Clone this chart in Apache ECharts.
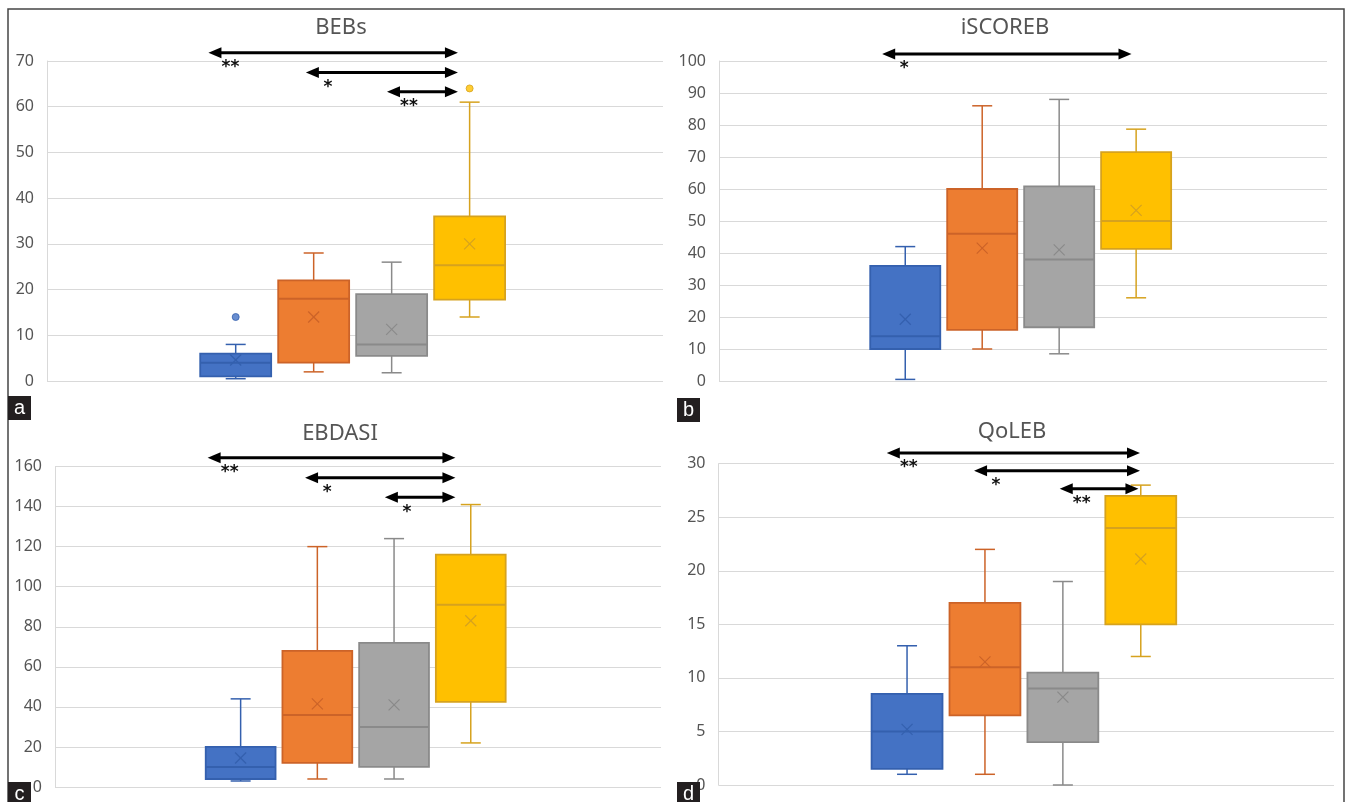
<!DOCTYPE html>
<html><head><meta charset="utf-8">
<script src="https://cdn.jsdelivr.net/npm/echarts@6/dist/echarts.min.js"></script>
<style>html,body{margin:0;padding:0;background:#fff}#c{width:1346px;height:802px}</style>
</head><body><div id="c"></div>
<script>
// ---------- data ----------
const groups = ['Group 1', 'Group 2', 'Group 3', 'Group 4'];
const panelTitles = ['BEBs', 'iSCOREB', 'EBDASI', 'QoLEB'];
const panelLetters = ['a', 'b', 'c', 'd'];
// each row: [min, q1, median, q3, max, mean]
const bebsStats = [[0.5, 1, 4, 6, 8, 4.6], [2, 4, 18, 22, 28, 14], [1.8, 5.5, 8, 19, 26, 11.3], [14, 17.8, 25.3, 36, 61, 30]];
const iscorebStats = [[0.5, 10, 14, 36, 42, 19.3], [10, 16, 46, 60, 86, 41.5], [8.5, 16.8, 38, 60.8, 88, 41], [26, 41.3, 50, 71.5, 78.7, 53.3]];
const ebdasiStats = [[3, 4, 10, 20, 44, 14.5], [4, 12, 36, 68, 120, 41.5], [4, 10, 30, 72, 124, 41], [22, 42.5, 91, 116, 141, 83]];
const qolebStats = [[1, 1.5, 5, 8.5, 13, 5.2], [1, 6.5, 11, 17, 22, 11.5], [0, 4, 9, 10.5, 19, 8.2], [12, 15, 24, 27, 28, 21.1]];
// outliers: [groupIndex, value]
const bebsOutliers = [[0, 14], [3, 64]];
const iscorebOutliers = [];
const ebdasiOutliers = [];
const qolebOutliers = [];
// y axis
const yMaxList = [70, 100, 160, 30];
const yIntervalList = [10, 10, 20, 5];
// significance arrows: [fromX, toX, yValue] (x in group units) and their labels
const bebsSig = [[-0.35, 2.85, 71.8], [0.9, 2.85, 67.5], [1.94, 2.85, 63.3]];
const bebsSigLabels = ['**', '*', '**'];
const iscorebSig = [[-0.3, 2.94, 102.2]];
const iscorebSigLabels = ['*'];
const ebdasiSig = [[-0.43, 2.8, 164.4], [0.84, 2.8, 154.4], [1.88, 2.8, 144.6]];
const ebdasiSigLabels = ['**', '*', '*'];
const qolebSig = [[-0.26, 2.99, 31], [0.86, 2.99, 29.35], [1.96, 2.97, 27.67]];
const qolebSigLabels = ['**', '*', '**'];

// ---------- style / layout ----------
const fills = ['#4472C4', '#ED7D31', '#A5A5A5', '#FFC000'];
const strokes = ['#3460AE', '#CC6328', '#8A8A8A', '#D6A21E'];
const FONT = '"Noto Sans", "Open Sans", sans-serif';
const gridsPx = [
  { left: 47, top: 61, width: 616, height: 320 },
  { left: 719, top: 61, width: 608, height: 320 },
  { left: 55, top: 466.5, width: 606, height: 320.5 },
  { left: 718.5, top: 463.7, width: 615.5, height: 321.3 }
];
const titlePos = [[341, 28], [1005, 28], [340, 434], [1012, 432]];
const letterPos = [[8, 396], [677, 398], [8, 782], [677, 782]];

const statsList = [bebsStats, iscorebStats, ebdasiStats, qolebStats];
const outlierList = [bebsOutliers, iscorebOutliers, ebdasiOutliers, qolebOutliers];
const sigList = [bebsSig, iscorebSig, ebdasiSig, qolebSig];
const sigLabelList = [bebsSigLabels, iscorebSigLabels, ebdasiSigLabels, qolebSigLabels];

function boxRender(params, api) {
  const i = api.value(0);
  const x = api.coord([i, 0])[0];
  const yMin = api.coord([i, api.value(1)])[1];
  const yQ1 = api.coord([i, api.value(2)])[1];
  const yMed = api.coord([i, api.value(3)])[1];
  const yQ3 = api.coord([i, api.value(4)])[1];
  const yMax = api.coord([i, api.value(5)])[1];
  const yMean = api.coord([i, api.value(6)])[1];
  const w = api.size([0.91, 0])[0];
  const cap = 20, m = 5.5;
  const st = strokes[i];
  const ln = (x1, y1, x2, y2, lw) => ({ type: 'line', shape: { x1, y1, x2, y2 }, style: { stroke: st, lineWidth: lw || 1.5 } });
  return {
    type: 'group', children: [
      ln(x, yMax, x, yQ3), ln(x, yQ1, x, yMin),
      ln(x - cap / 2, yMax, x + cap / 2, yMax), ln(x - cap / 2, yMin, x + cap / 2, yMin),
      { type: 'rect', shape: { x: x - w / 2, y: yQ3, width: w, height: yQ1 - yQ3 }, style: { fill: fills[i], stroke: st, lineWidth: 1.8 } },
      ln(x - w / 2, yMed, x + w / 2, yMed, 2),
      ln(x - m, yMean - m, x + m, yMean + m, 1.2), ln(x - m, yMean + m, x + m, yMean - m, 1.2)
    ]
  };
}

function arrowRender(labels) {
  return function (params, api) {
    const p1 = api.coord([api.value(0), api.value(2)]);
    const p2 = api.coord([api.value(1), api.value(2)]);
    const hl = 13, hh = 5.5, y = p1[1];
    return {
      type: 'group', children: [
        { type: 'line', shape: { x1: p1[0] + hl - 2, y1: y, x2: p2[0] - hl + 2, y2: y }, style: { stroke: '#000', lineWidth: 3 } },
        { type: 'polygon', shape: { points: [[p1[0], y], [p1[0] + hl, y - hh], [p1[0] + hl, y + hh]] }, style: { fill: '#000' } },
        { type: 'polygon', shape: { points: [[p2[0], y], [p2[0] - hl, y - hh], [p2[0] - hl, y + hh]] }, style: { fill: '#000' } },
        { type: 'text', style: { text: labels[params.dataIndex], x: p1[0] + 22, y: y + 15, align: 'center', verticalAlign: 'middle', textAlign: 'center', textVerticalAlign: 'middle', font: 'bold 17px "DejaVu Sans", sans-serif', fill: '#111' } }
      ]
    };
  };
}

const option = {
  animation: false,
  backgroundColor: '#fff',
  grid: gridsPx.map(g => Object.assign({ containLabel: false }, g)),
  xAxis: gridsPx.map((g, k) => ({
    type: 'value', gridIndex: k, min: -2.42, max: 5.48, show: false,
    splitLine: { show: false }, axisLine: { show: false, onZero: false }, axisTick: { show: false }, axisLabel: { show: false }
  })),
  yAxis: gridsPx.map((g, k) => ({
    type: 'value', gridIndex: k, min: 0, max: yMaxList[k], interval: yIntervalList[k], position: 'left',
    axisLine: { show: true, onZero: false, lineStyle: { color: '#d9d9d9', width: 1 } },
    axisTick: { show: false },
    axisLabel: { color: '#555555', fontSize: 16, fontFamily: FONT, margin: 13 },
    splitLine: { lineStyle: { color: '#d9d9d9', width: 1.2 } }
  })),
  series: [],
  graphic: []
};

for (let k = 0; k < 4; k++) {
  option.series.push({
    type: 'custom', name: panelTitles[k], xAxisIndex: k, yAxisIndex: k,
    renderItem: boxRender, clip: false,
    encode: { x: 0, y: [1, 2, 3, 4, 5, 6] },
    data: statsList[k].map((s, i) => [i].concat(s))
  });
  if (outlierList[k].length) {
    option.series.push({
      type: 'scatter', xAxisIndex: k, yAxisIndex: k, symbolSize: 7,
      data: outlierList[k].map(o => ({ value: o, itemStyle: { color: fills[o[0]], borderColor: strokes[o[0]], borderWidth: 1 } }))
    });
  }
  option.series.push({
    type: 'custom', xAxisIndex: k, yAxisIndex: k, clip: false,
    renderItem: arrowRender(sigLabelList[k]),
    encode: { x: [0, 1], y: 2 },
    data: sigList[k]
  });
  option.graphic.push({
    type: 'text', x: titlePos[k][0], y: titlePos[k][1],
    style: { text: panelTitles[k], align: 'center', verticalAlign: 'middle', textAlign: 'center', textVerticalAlign: 'middle', font: '22px ' + FONT, fill: '#555555' }
  });
  option.graphic.push({
    type: 'rect', x: letterPos[k][0], y: letterPos[k][1], shape: { width: 23, height: 24 }, style: { fill: '#231F20' }, z: 10
  });
  option.graphic.push({
    type: 'text', x: letterPos[k][0] + 11.5, y: letterPos[k][1] + 12, z: 11,
    style: { text: panelLetters[k], align: 'center', verticalAlign: 'middle', textAlign: 'center', textVerticalAlign: 'middle', font: '20px "Liberation Sans", Arial, sans-serif', fill: '#fff' }
  });
}
option.graphic.push({
  type: 'polyline', shape: { points: [[8, 802], [8, 9], [1344, 9], [1344, 802]] },
  style: { stroke: '#454545', lineWidth: 1.5, fill: null }, z: 9
});

const chart = echarts.init(document.getElementById('c'), null, { renderer: 'canvas' });
chart.setOption(option);
</script>
</body></html>
